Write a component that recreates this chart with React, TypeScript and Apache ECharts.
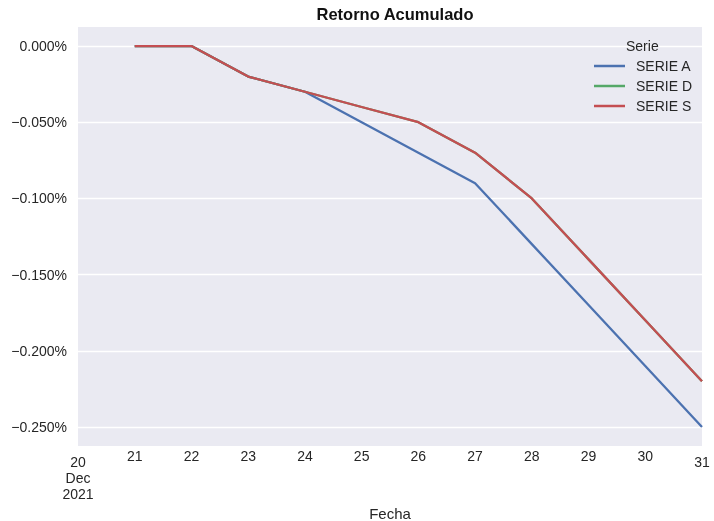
import React, { useEffect, useRef } from "react";
import * as echarts from "echarts";

const days = [21, 22, 23, 24, 25, 26, 27, 28, 29, 30, 31];
const serieA = [0, 0, -0.02, -0.03, -0.05, -0.07, -0.09, -0.13, -0.17, -0.21, -0.25];
const serieD = [0, 0, -0.02, -0.03, -0.04, -0.05, -0.07, -0.1, -0.14, -0.18, -0.22];
const serieS = [0, 0, -0.02, -0.03, -0.04, -0.05, -0.07, -0.1, -0.14, -0.18, -0.22];
const seriesNames = ["SERIE A", "SERIE D", "SERIE S"];
const yTicks = [0, -0.05, -0.1, -0.15, -0.2, -0.25];
const month = "Dec";
const year = "2021";

const FONT = "Liberation Sans, Arial, sans-serif";
const TXT = "#262626";

export default function App() {
  const ref = useRef<HTMLDivElement>(null);
  useEffect(() => {
    if (!ref.current) return;
    const chart = echarts.init(ref.current, null, { renderer: "svg" });
    const toPairs = (vals: number[]) => days.map((d, i) => [d, vals[i]]);
    const colors = ["#4C72B0", "#55A868", "#C44E52"];
    const data = [serieA, serieD, serieS];
    chart.setOption({
      animation: false,
      textStyle: { fontFamily: FONT },
      title: {
        text: "Retorno Acumulado",
        left: 390,
        textAlign: "center",
        top: 0,
        textStyle: { fontFamily: FONT, fontSize: 16.5, fontWeight: "bold", color: "#111" },
      },
      grid: {
        left: 78,
        right: 12,
        top: 27,
        bottom: 75,
        show: true,
        backgroundColor: "#EAEAF2",
        borderWidth: 0,
        containLabel: false,
        outerBoundsMode: "none",
      },
      legend: {
        orient: "vertical",
        left: 589,
        top: 54,
        itemWidth: 31,
        itemHeight: 2.5,
        itemGap: 6,
        icon: "rect",
        data: seriesNames,
        textStyle: { fontFamily: FONT, fontSize: 14, color: TXT, padding: [0, 0, 0, 6] },
      },
      graphic: [
        {
          type: "text",
          left: 626,
          top: 39,
          style: { text: "Serie", fontFamily: FONT, fontSize: 14, fill: TXT },
          z: 10,
        },
      ],
      xAxis: {
        type: "value",
        min: 20,
        max: 31,
        interval: 1,
        name: "Fecha",
        nameLocation: "middle",
        nameGap: 53,
        nameTextStyle: { fontFamily: FONT, fontSize: 15, color: TXT },
        axisLine: { show: false },
        axisTick: { show: false },
        splitLine: { show: false },
        axisLabel: {
          margin: 2,
          color: TXT,
          fontSize: 14,
          fontFamily: FONT,
          showMinLabel: true,
          showMaxLabel: true,
          formatter: (v: number) => {
            if (v === 20) return `{s| }\n{n|${v}}\n{n|${month}}\n{n|${year}}`;
            if (v === 31) return `{s| }\n{n|${v}}`;
            return `{n|${v}}`;
          },
          rich: {
            n: { fontSize: 14, lineHeight: 16, color: TXT, fontFamily: FONT },
            s: { fontSize: 1, lineHeight: 6 },
          },
        },
      },
      yAxis: {
        type: "value",
        min: -0.2625,
        max: 0.0125,
        axisLine: { show: false },
        axisTick: { show: false, customValues: yTicks },
        splitLine: { show: true, lineStyle: { color: "#ffffff", width: 1.3 } },
        axisLabel: {
          customValues: yTicks,
          margin: 11,
          color: TXT,
          fontSize: 14,
          fontFamily: FONT,
          formatter: (v: number) => {
            const s = Math.abs(v).toFixed(3) + "%";
            return v < -1e-9 ? "\u2212" + s : s;
          },
        },
      },
      series: seriesNames.map((name, i) => ({
        name,
        type: "line",
        data: toPairs(data[i]),
        showSymbol: false,
        symbol: "none",
        color: colors[i],
        lineStyle: { width: 2.3, color: colors[i] },
        z: 2 + i,
      })),
    });
    return () => chart.dispose();
  }, []);
  return <div ref={ref} style={{ position: "fixed", left: 0, top: 0, width: 714, height: 521 }} />;
}
